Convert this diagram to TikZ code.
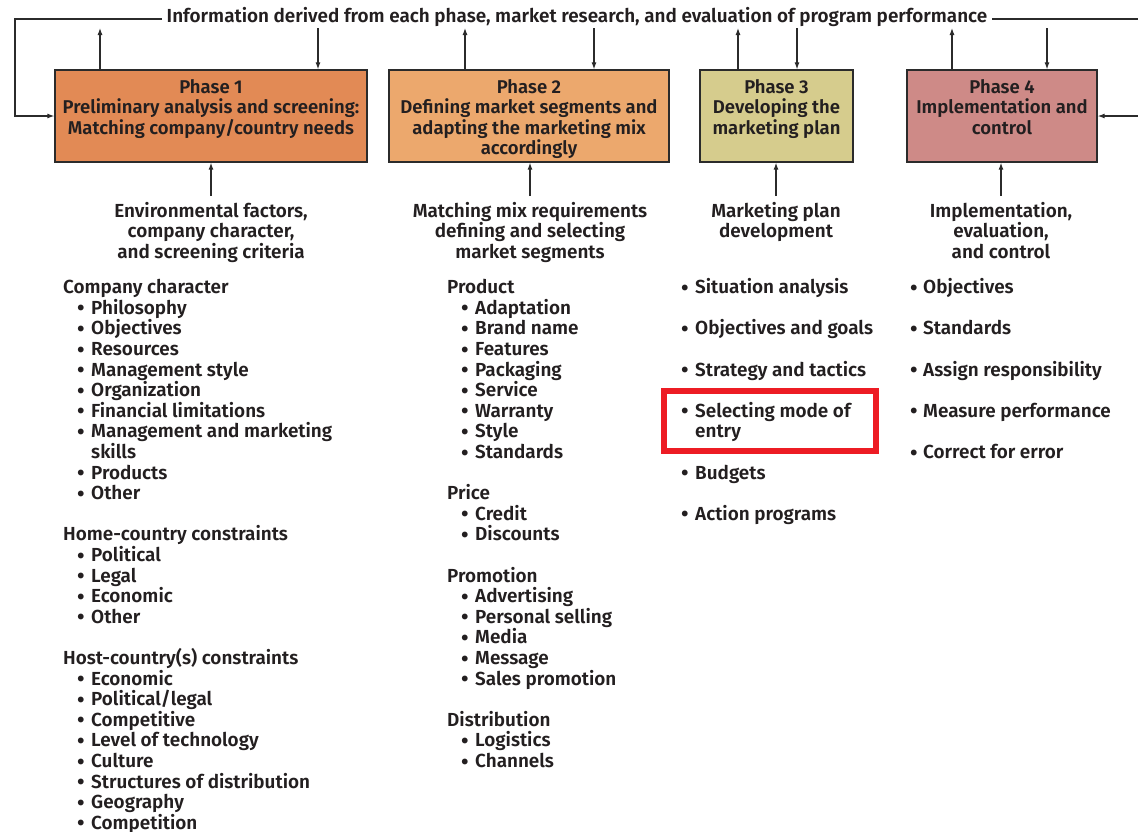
\documentclass[tikz,border=0pt]{standalone}
\usepackage{fontspec}
\setmainfont{Fira Sans}[UprightFont=* SemiBold]
\usetikzlibrary{arrows.meta}
\definecolor{ink}{HTML}{231F20}
\definecolor{wire}{HTML}{2B2B2B}
\definecolor{phaseA}{HTML}{E28A55}
\definecolor{phaseB}{HTML}{ECA86D}
\definecolor{phaseC}{HTML}{D6CC8D}
\definecolor{phaseD}{HTML}{CE8A87}
\definecolor{mark}{HTML}{ED1C24}
\newcommand\dotmark{{\fontsize{22}{22}\selectfont\raisebox{-1.6pt}{\textbullet}}}
\newcommand\bul{\makebox[14pt][l]{\dotmark}}
\newcommand\rowy[1]{293.6+20.6*#1}
\tikzset{
  phasebox/.style={draw=wire, line width=1.3pt, minimum height=92pt, inner sep=0pt},
  phasetext/.style={anchor=north, align=center, inner sep=0pt, yshift=-10pt,
    font=\fontsize{18.5}{20.4}\selectfont},
  lbl/.style={anchor=north, align=center, inner xsep=0pt, inner ysep=6pt},
  hd/.style={anchor=base west, inner sep=0pt},
  itm/.style={anchor=base west, inner sep=0pt},
  flow/.style={draw=wire, line width=1.1pt, -{Latex[length=7pt,width=5pt]}},
  wireline/.style={draw=wire, line width=1.1pt},
}
\begin{document}
\begin{tikzpicture}[x=1pt, y=-1pt, text=ink,
  font=\fontsize{18.9}{20.4}\selectfont]
\useasboundingbox (0,0) rectangle (1138,831);

% phase boxes
\node[phasebox, fill=phaseA, minimum width=312pt] (p1) at (211,116) {};
\node[phasebox, fill=phaseB, minimum width=280pt] (p2) at (529,116) {};
\node[phasebox, fill=phaseC, minimum width=153pt] (p3) at (776.5,116) {};
\node[phasebox, fill=phaseD, minimum width=190pt] (p4) at (1002,116) {};

\node[phasetext] (t1) at (p1.north) {Phase 1\\Preliminary analysis and screening:\\Matching company/country needs};
\node[phasetext] (t2) at (p2.north) {Phase 2\\Defining market segments and\\adapting the marketing mix\\accordingly};
\node[phasetext] (t3) at (p3.north) {Phase 3\\Developing the\\marketing plan};
\node[phasetext] (t4) at (p4.north) {Phase 4\\Implementation and\\control};

% feedback line along the top
\node[inner sep=5pt] (info) at (577,17) {Information derived from each phase, market research, and evaluation of program performance};
\coordinate (lc) at (15,19);
\coordinate (rc) at (1138,19);
\coordinate (re) at (1138,116);
\draw[wireline] (info.west |- lc) -- (lc) |- (p1.west) [flow];
\draw[wireline] (info.east |- rc) -- (rc);
\draw[flow] (re) -- (p4.east);

% exchanges between each phase and the information line
\foreach \b/\u/\d in {p1/100/318, p2/465/594, p3/738/797, p4/952/1047}{
  \coordinate (\b up) at (\u,28);
  \coordinate (\b dn) at (\d,28);
  \draw[flow] (\b.north -| \b up) -- (\b up);
  \draw[flow] (\b dn) -- (\b.north -| \b dn);
}

% inputs feeding each phase
\node[lbl] (l1) at (211,196) {Environmental factors,\\company character,\\and screening criteria};
\node[lbl] (l2) at (530,196) {Matching mix requirements\\defining and selecting\\market segments};
\node[lbl] (l3) at (776,196) {Marketing plan\\development};
\node[lbl] (l4) at (1001,196) {Implementation,\\evaluation,\\and control};
\foreach \i in {1,2,3,4}{
  \draw[flow] (l\i.north) -- (l\i.north |- p\i.south);
}

% column 1
\node[hd] (ah0) at (63,{\rowy{0}}) {Company character};
\node[hd] (ah12) at (63,{\rowy{12}}) {Home-country constraints};
\node[hd] (ah18) at (63,{\rowy{18}}) {Host-country(s) constraints};
\foreach \k/\t in {1/Philosophy, 2/Objectives, 3/Resources, 4/Management style,
  5/Organization, 6/Financial limitations, 7/Management and marketing,
  9/Products, 10/Other, 13/Political, 14/Legal, 15/Economic, 16/Other,
  19/Economic, 20/Political\slash legal, 21/Competitive, 22/Level of technology,
  23/Culture, 24/Structures of distribution, 25/Geography, 26/Competition}{
  \node[itm] (a\k) at (77,{\rowy{\k}}) {\bul\t};
}
\node[itm] (a8) at (91,{\rowy{8}}) {skills};

% column 2
\node[hd] (bh0) at (447,{\rowy{0}}) {Product};
\node[hd] (bh10) at (447,{\rowy{10}}) {Price};
\node[hd] (bh14) at (447,{\rowy{14}}) {Promotion};
\node[hd] (bh21) at (447,{\rowy{21}}) {Distribution};
\foreach \k/\t in {1/Adaptation, 2/Brand name, 3/Features, 4/Packaging,
  5/Service, 6/Warranty, 7/Style, 8/Standards, 11/Credit, 12/Discounts,
  15/Advertising, 16/Personal selling, 17/Media, 18/Message,
  19/Sales promotion, 22/Logistics, 23/Channels}{
  \node[itm] (b\k) at (461,{\rowy{\k}}) {\bul\t};
}

% column 3
\foreach \k/\t in {0/Situation analysis, 2/Objectives and goals,
  4/Strategy and tactics, 6/Selecting mode of, 9/Budgets, 11/Action programs}{
  \node[itm] (c\k) at (681,{\rowy{\k}}) {\bul\t};
}
\node[itm] (c7) at (695,{\rowy{7}}) {entry};
\node[draw=mark, line width=5.5pt, minimum width=212pt, minimum height=60pt, inner sep=0pt] (sel) at (770,421) {};

% column 4
\foreach \k/\t in {0/Objectives, 2/Standards, 4/Assign responsibility,
  6/Measure performance, 8/Correct for error}{
  \node[itm] (d\k) at (910,{\rowy{\k}}) {\makebox[13pt][l]{\dotmark}\t};
}
\end{tikzpicture}
\end{document}
